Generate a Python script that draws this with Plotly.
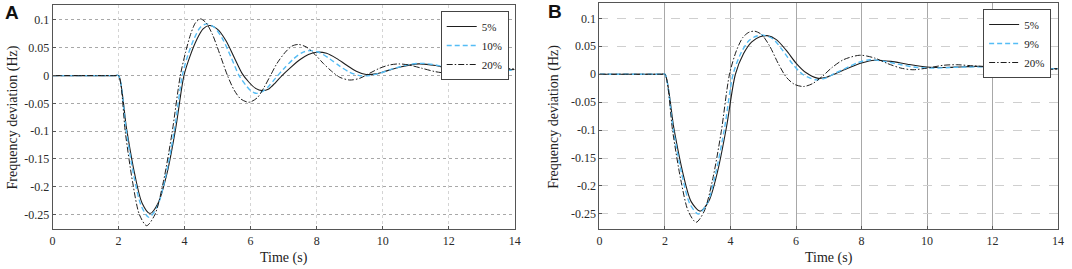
import plotly.graph_objects as go

# ---------------- data ----------------
# Panel A
tA_5 = [0, 1.9, 2, 2.24, 2.48, 2.71, 2.95, 3.2, 3.47, 3.73, 3.98, 4.17, 4.37, 4.56, 4.75, 5.0, 5.25, 5.5, 5.75, 5.95, 6.15, 6.35, 6.55, 6.75, 6.95, 7.2, 7.5, 7.75, 8.0, 8.3, 8.6, 8.9, 9.2, 9.5, 9.8, 10.1, 10.5, 11.1, 11.6, 12.1, 12.5, 13.0, 13.5, 14]
vA_5 = [0, 0, 0, -0.095, -0.175, -0.229, -0.248, -0.229, -0.175, -0.095, 0.0, 0.036, 0.065, 0.084, 0.090, 0.083, 0.063, 0.033, 0.003, -0.012, -0.023, -0.027, -0.024, -0.013, 0.0, 0.014, 0.029, 0.038, 0.042, 0.040, 0.031, 0.019, 0.008, 0.002, 0.003, 0.008, 0.015, 0.021, 0.018, 0.011, 0.007, 0.007, 0.009, 0.011]

tA_10 = [0, 1.9, 2, 2.23, 2.46, 2.69, 2.92, 3.17, 3.43, 3.69, 3.93, 4.1, 4.3, 4.48, 4.67, 4.9, 5.15, 5.4, 5.65, 5.85, 6.0, 6.17, 6.35, 6.55, 6.75, 7.0, 7.3, 7.55, 7.8, 8.1, 8.4, 8.7, 9.0, 9.3, 9.6, 9.9, 10.3, 10.8, 11.2, 11.7, 12.2, 12.7, 13.2, 13.7, 14]
vA_10 = [0, 0, 0, -0.098, -0.180, -0.235, -0.255, -0.236, -0.180, -0.098, 0.0, 0.037, 0.068, 0.087, 0.093, 0.087, 0.066, 0.034, 0.0, -0.017, -0.027, -0.032, -0.029, -0.019, -0.005, 0.012, 0.030, 0.041, 0.045, 0.041, 0.030, 0.017, 0.006, 0.0, 0.0, 0.004, 0.012, 0.020, 0.022, 0.018, 0.011, 0.007, 0.007, 0.009, 0.010]

tA_20 = [0, 1.9, 2, 2.21, 2.42, 2.63, 2.85, 3.1, 3.36, 3.62, 3.87, 4.03, 4.18, 4.33, 4.48, 4.65, 4.85, 5.07, 5.3, 5.5, 5.7, 5.95, 6.2, 6.4, 6.6, 6.8, 7.05, 7.25, 7.45, 7.7, 7.95, 8.2, 8.45, 8.7, 9.0, 9.3, 9.6, 9.9, 10.2, 10.5, 10.8, 11.2, 11.6, 12.0, 12.4, 12.8, 13.2, 13.5, 14]
vA_20 = [0, 0, 0, -0.105, -0.190, -0.250, -0.270, -0.250, -0.190, -0.103, 0.0, 0.042, 0.074, 0.095, 0.102, 0.095, 0.073, 0.038, 0.0, -0.026, -0.042, -0.048, -0.040, -0.022, 0.0, 0.022, 0.042, 0.053, 0.056, 0.051, 0.038, 0.022, 0.008, -0.003, -0.008, -0.005, 0.004, 0.013, 0.019, 0.021, 0.019, 0.013, 0.007, 0.004, 0.005, 0.009, 0.012, 0.013, 0.012]

# Panel B
tB_5 = [0, 1.9, 2, 2.27, 2.54, 2.8, 3.07, 3.34, 3.61, 3.88, 4.15, 4.4, 4.65, 4.9, 5.12, 5.4, 5.7, 6.0, 6.3, 6.65, 6.9, 7.2, 7.6, 8.0, 8.4, 8.9, 9.4, 10.0, 10.5, 11.0, 11.5, 12.0, 12.5, 13.0, 13.5, 14]
vB_5 = [0, 0, 0, -0.096, -0.175, -0.228, -0.245, -0.227, -0.173, -0.094, 0.0, 0.037, 0.058, 0.067, 0.069, 0.062, 0.043, 0.020, 0.003, -0.007, -0.006, 0.001, 0.011, 0.020, 0.025, 0.023, 0.018, 0.013, 0.012, 0.013, 0.014, 0.013, 0.012, 0.011, 0.010, 0.010]

tB_9 = [0, 1.9, 2, 2.25, 2.51, 2.76, 3.02, 3.29, 3.55, 3.82, 4.08, 4.32, 4.56, 4.78, 5.0, 5.3, 5.6, 5.9, 6.2, 6.6, 6.9, 7.2, 7.6, 7.9, 8.25, 8.7, 9.2, 9.7, 10.2, 10.7, 11.3, 12.0, 12.7, 13.3, 14]
vB_9 = [0, 0, 0, -0.098, -0.178, -0.232, -0.250, -0.231, -0.177, -0.096, 0.0, 0.038, 0.060, 0.068, 0.070, 0.063, 0.042, 0.018, 0.0, -0.010, -0.007, 0.002, 0.013, 0.021, 0.026, 0.023, 0.017, 0.012, 0.011, 0.012, 0.013, 0.013, 0.011, 0.010, 0.010]

tB_20 = [0, 1.9, 2, 2.24, 2.48, 2.71, 2.95, 3.2, 3.46, 3.72, 3.97, 4.18, 4.38, 4.56, 4.74, 4.95, 5.2, 5.45, 5.7, 5.95, 6.23, 6.5, 6.8, 7.1, 7.45, 7.95, 8.4, 8.8, 9.2, 9.57, 10.0, 10.5, 10.9, 11.4, 12.0, 12.5, 13.0, 13.5, 14]
vB_20 = [0, 0, 0, -0.104, -0.188, -0.245, -0.265, -0.245, -0.187, -0.102, 0.0, 0.042, 0.066, 0.075, 0.077, 0.071, 0.050, 0.020, -0.005, -0.018, -0.022, -0.017, -0.004, 0.012, 0.026, 0.034, 0.029, 0.019, 0.011, 0.008, 0.011, 0.016, 0.017, 0.015, 0.013, 0.011, 0.010, 0.009, 0.009]

names_A = ["5%", "10%", "20%"]
names_B = ["5%", "9%", "20%"]

x_ticks = [0, 2, 4, 6, 8, 10, 12, 14]
y_ticks = [0.1, 0.05, 0, -0.05, -0.1, -0.15, -0.2, -0.25]
y_ticktext = ["0.1", "0.05", "0", "-0.05", "-0.1", "-0.15", "-0.2", "-0.25"]

x_title = "Time (s)"
y_title = "Frequency deviation (Hz)"
panel_labels = ["A", "B"]

# ---------------- styling ----------------
W, H = 1072, 269
SERIF = "Liberation Serif"
DARK = "#1e1e1e"
BLUE = "#55bdf5"

styles = [
    dict(color=DARK, width=1.1, dash="solid"),
    dict(color=BLUE, width=1.4, dash="5px,3px"),
    dict(color=DARK, width=1.0, dash="6px,2px,1.5px,2px"),
]

fig = go.Figure()

seriesA = [(tA_5, vA_5), (tA_10, vA_10), (tA_20, vA_20)]
seriesB = [(tB_5, vB_5), (tB_9, vB_9), (tB_20, vB_20)]

for (t, v), nm, st in zip(seriesA, names_A, styles):
    fig.add_trace(go.Scatter(x=t, y=v, name=nm, mode="lines",
                             line=dict(shape="spline", smoothing=0.8, **st),
                             xaxis="x", yaxis="y", legend="legend"))
for (t, v), nm, st in zip(seriesB, names_B, styles):
    fig.add_trace(go.Scatter(x=t, y=v, name=nm, mode="lines",
                             line=dict(shape="spline", smoothing=0.8, **st),
                             xaxis="x2", yaxis="y2", legend="legend2"))

def px_x(p):
    return p / W

def px_y(p):
    return 1 - p / H

tickfont = dict(family=SERIF, size=12, color="#2a2a2a")

def xaxis_cfg(dom, anchor, gridcolor, griddash):
    return dict(domain=dom, anchor=anchor, range=[0, 14], tickvals=x_ticks,
                ticks="inside", ticklen=3, tickcolor="#555",
                showline=True, mirror=True, linecolor="#555", linewidth=1,
                showgrid=True, gridcolor=gridcolor, griddash=griddash, gridwidth=1,
                zeroline=False, tickfont=tickfont, fixedrange=True)

def yaxis_cfg(dom, anchor, rng, gridcolor, griddash):
    return dict(domain=dom, anchor=anchor, range=rng, tickvals=y_ticks, ticktext=y_ticktext,
                ticks="inside", ticklen=3, tickcolor="#555",
                showline=True, mirror=True, linecolor="#555", linewidth=1,
                showgrid=True, gridcolor=gridcolor, griddash=griddash, gridwidth=1,
                zeroline=False, tickfont=tickfont, fixedrange=True)

xA = [px_x(50), px_x(516)]
xB = [px_x(601.5), px_x(1064)]
yA = [px_y(229.3), px_y(4.7)]
yB = [px_y(229.3), px_y(2.7)]

legend_common = dict(font=dict(family=SERIF, size=11, color="#222"),
                     bgcolor="white", bordercolor="#444", borderwidth=1,
                     itemwidth=30, tracegroupgap=0, xanchor="right", yanchor="top")

fig.update_layout(
    width=W, height=H, margin=dict(l=0, r=0, t=0, b=0),
    paper_bgcolor="white", plot_bgcolor="white",
    xaxis=xaxis_cfg(xA, "y", "#d4d4d4", "dot"),
    yaxis=yaxis_cfg(yA, "x", [-0.2765, 0.1275], "#a8a8a8", "dot"),
    xaxis2=xaxis_cfg(xB, "y2", "#a8a8a8", "solid"),
    yaxis2=yaxis_cfg(yB, "x2", [-0.2775, 0.128], "#cfcfcf", "dash"),
    legend=dict(x=px_x(510), y=px_y(11), **legend_common),
    legend2=dict(x=px_x(1057), y=px_y(9), **legend_common),
    showlegend=True,
)

ann = []
for cx, lbl in [((xA[0] + xA[1]) / 2, x_title), ((xB[0] + xB[1]) / 2, x_title)]:
    ann.append(dict(x=cx, y=px_y(258), xref="paper", yref="paper", text=lbl,
                    showarrow=False, xanchor="center", yanchor="middle",
                    font=dict(family=SERIF, size=14, color="#222")))
for cx, lbl in [(px_x(10.5), y_title), (px_x(555.5), y_title)]:
    ann.append(dict(x=cx, y=px_y(117), xref="paper", yref="paper", text=lbl,
                    showarrow=False, textangle=-90, xanchor="center", yanchor="middle",
                    font=dict(family=SERIF, size=14, color="#222")))
for cx, cy, lbl in [(px_x(9.5), px_y(12.5), panel_labels[0]), (px_x(556.5), px_y(11), panel_labels[1])]:
    ann.append(dict(x=cx, y=cy, xref="paper", yref="paper", text="<b>" + lbl + "</b>",
                    showarrow=False, xanchor="center", yanchor="middle",
                    font=dict(family="Liberation Sans", size=19, color="#111")))
fig.update_layout(annotations=ann)

fig.write_html("out.html",
               config={"displayModeBar": False, "staticPlot": True},
               post_script="document.body.style.margin='0';document.body.style.padding='0';document.body.style.overflow='hidden';")
